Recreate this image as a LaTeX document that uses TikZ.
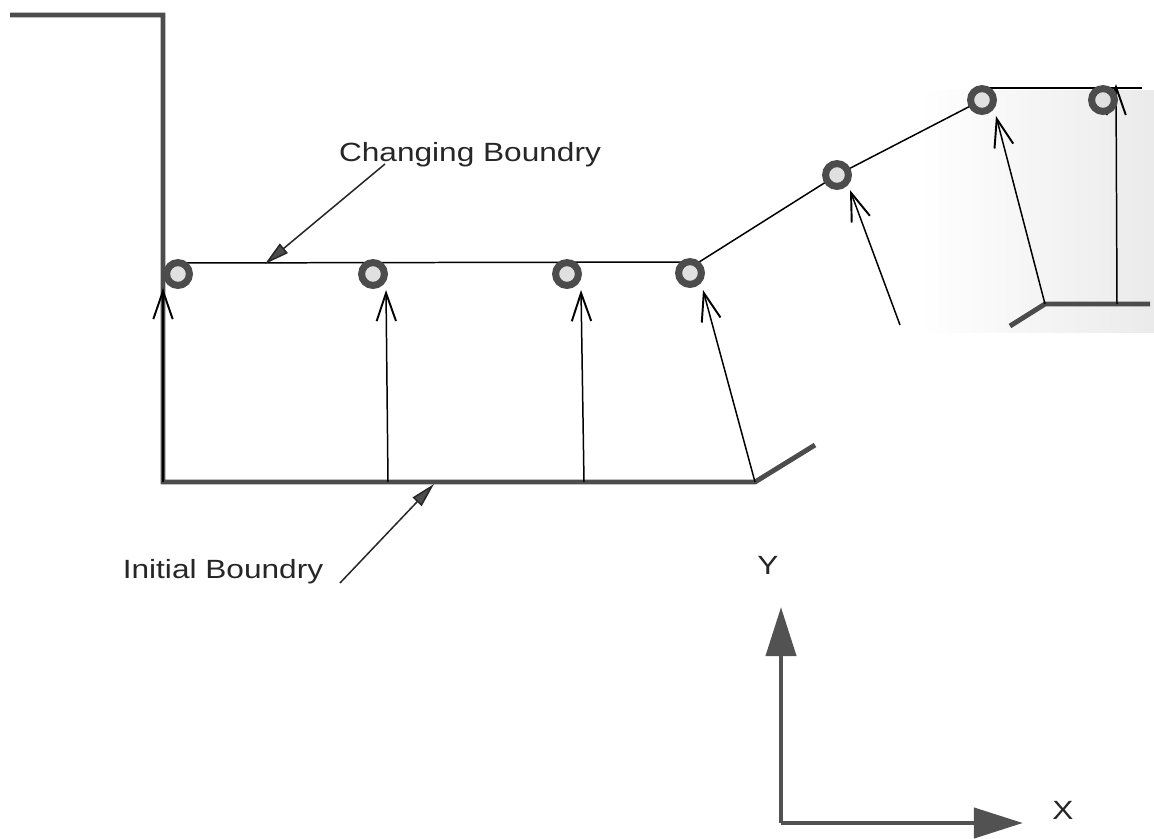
\documentclass[tikz,border=0pt]{standalone}
\usepackage{fontspec}
\newfontfamily\labfont[FakeStretch=1.2]{Liberation Sans}
\usetikzlibrary{arrows.meta,calc}
\begin{document}
\begin{tikzpicture}[x=0.02cm,y=-0.02cm,
  thickb/.style={line width=2.8pt,draw=black!70,line join=miter},
  thinl/.style={line width=0.85pt,draw=black},
  moveto/.style={thinl,-{Straight Barb[length=16pt,width=11pt,line width=1.1pt]}},
  callout/.style={line width=0.85pt,draw=black!85,-{Triangle[length=14pt,width=7pt,fill=black!70]}},
  axisarr/.style={line width=2.8pt,draw=black!68,-{Triangle[length=28pt,width=17pt,fill=black!68]}},
  nodept/.style={circle,draw=black!70,line width=4pt,fill=black!12,minimum size=13pt,inner sep=0pt},
  lab/.style={font=\labfont\fontsize{15}{18}\selectfont,inner sep=0pt,text=black!85}]
\useasboundingbox (0,0) rectangle (1154,839);

% stippled region on the right
\shade[left color=white,right color=black!8] (920,90) rectangle (1154,332);

% points
\coordinate (p1) at (178,274);
\coordinate (p2) at (373,274);
\coordinate (p3) at (567,274);
\coordinate (p4) at (690,273);
\coordinate (p5) at (837,175);
\coordinate (p6) at (982,100);
\coordinate (p7) at (1103,100);
\coordinate (e1) at (1142,88);

% initial boundary
\coordinate (b0) at (10,15);
\coordinate (b1) at (163,15);
\coordinate (b2) at (163,482);
\coordinate (b3) at (755,482);
\coordinate (b4) at (815,445);
\coordinate (r0) at (1010,326);
\coordinate (r1) at (1045,304);
\coordinate (r2) at (1150,304);
\draw[thickb] (b0) -- (b1) -- (b2) -- (b3) -- (b4);
\draw[thickb] (r0) -- (r1) -- (r2);

% changing boundary
\draw[thinl] ($(p1)+(0,-11)$) -- ($(p4)+(0,-11)$) -- ($(p4)+(6,-9)$) -- (p5) -- (p6);
\draw[thinl] ($(p6)+(0,-12)$) -- (e1);

% movement arrows
\coordinate (q2) at (388,482);
\coordinate (q3) at (584,482);
\coordinate (q5) at (900,325);
\coordinate (q7) at (1117,304);
\coordinate (t1) at (163,288);
\coordinate (t2) at (386,290);
\coordinate (t3) at (581,290);
\coordinate (t4) at (703,290);
\coordinate (t5) at (850,190);
\coordinate (t6) at (996,116);
\coordinate (t7) at (1116,84);
\draw[moveto] (b2) -- (t1);
\draw[moveto] (q2) -- (t2);
\draw[moveto] (q3) -- (t3);
\draw[moveto] (b3) -- (t4);
\draw[moveto] (q5) -- (t5);
\draw[moveto] (r1) -- (t6);
\draw[moveto] (q7) -- (t7);

% circles
\foreach \i in {1,...,7} { \node[nodept] (c\i) at (p\i) {}; }

% labels and callouts
\node[lab] (chg) at (470,155) {Changing Boundry};
\node[lab] (ini) at (223,572) {Initial Boundry};
\coordinate (k1) at (385,164);
\coordinate (k2) at (265,264);
\coordinate (k3) at (340,583);
\coordinate (k4) at (434,484);
\draw[callout] (k1) -- (k2);
\draw[callout] (k3) -- (k4);

% axes
\coordinate (o) at (781,823);
\coordinate (ytip) at (781,607);
\coordinate (xtip) at (1023,823);
\draw[axisarr] (o) -- (ytip);
\draw[axisarr] (o) -- (xtip);
\node[lab] (ylab) at (768,565) {Y};
\node[lab] (xlab) at (1063,810) {X};
\end{tikzpicture}
\end{document}
